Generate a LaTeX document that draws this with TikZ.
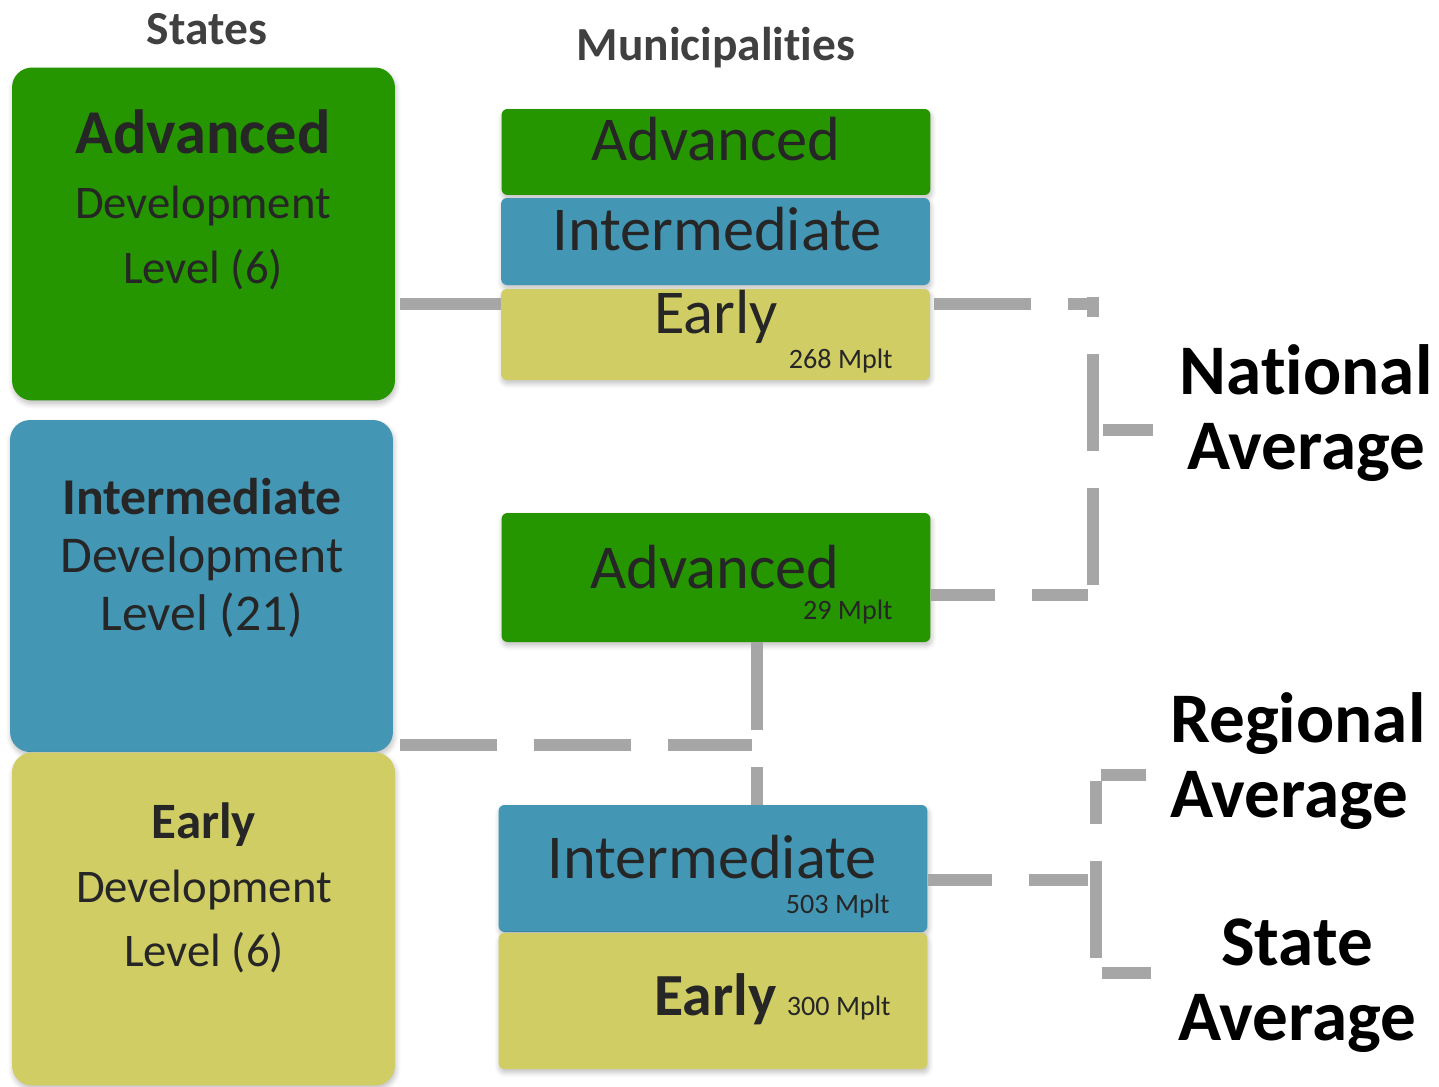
\documentclass[tikz,border=0pt]{standalone}
\usepackage{fontspec}
\setmainfont{Carlito}[RawFeature={-liga;-clig}]
\usepackage{tikz}
\usetikzlibrary{positioning, calc, shadows.blur}
\definecolor{AdvGreen}{HTML}{259500}
\definecolor{IntBlue}{HTML}{4397B5}
\definecolor{EarlyOlive}{HTML}{CFCD63}
\definecolor{LinkGray}{HTML}{A6A6A6}
\definecolor{BoxText}{HTML}{262626}
\definecolor{HeadText}{HTML}{404040}

\begin{document}
\begin{tikzpicture}[
    x=0.02cm, y=-0.02cm,
    softshadow/.style={blur shadow={shadow xshift=0.02cm, shadow yshift=-0.07cm,
        shadow opacity=25, shadow blur radius=0.1cm, shadow blur steps=6}},
    statebox/.style={
        rectangle, rounded corners=0.4cm, fill=#1, inner sep=0pt,
        minimum width=7.66cm, minimum height=6.66cm, softshadow
    },
    munibox/.style={
        rectangle, rounded corners=0.12cm, fill=#1, inner sep=0pt,
        minimum width=8.58cm, softshadow
    },
    boxtext/.style={text=BoxText, align=center, inner sep=0pt},
    muniword/.style={text=BoxText, anchor=base, inner sep=0pt,
                     font=\fontsize{35.5}{38}\selectfont},
    mplt/.style={text=BoxText, anchor=base east, inner sep=0pt,
                 font=\fontsize{16}{18}\selectfont},
    heading/.style={text=HeadText, anchor=base, inner sep=0pt,
                    font=\fontsize{27}{30}\selectfont\bfseries},
    avglabel/.style={text=black, align=center, inner sep=0pt,
                     font=\fontsize{40.5}{42.5}\selectfont\bfseries},
    link/.style={draw=LinkGray, line width=0.24cm, dash pattern=on 1.94cm off 0.74cm},
    solidlink/.style={draw=LinkGray, line width=0.24cm}
]
\useasboundingbox (0,0) rectangle (1439,1086);

% Headings
\node[heading] (hStates) at (207,44) {States};
\node[heading] (hMuni) at (716,60) {Municipalities};

% State boxes
\node[statebox=AdvGreen] (stAdv) at (203.5,234) {};
\node[statebox=IntBlue, minimum height=6.64cm] (stInt) at (201.5,586) {};
\node[statebox=EarlyOlive] (stEarly) at (203.5,919) {};

\node[boxtext, font=\fontsize{26.6}{37}\selectfont] (stAdvTxt) at (203,200)
    {{\fontsize{35.5}{38}\selectfont\bfseries Advanced}\\
     Development\\ Level (6)};
\node[boxtext, font=\fontsize{29.4}{33}\selectfont] (stIntTxt) at (202,558)
    {\textbf{Intermediate}\\ Development\\ Level (21)};
\node[boxtext, font=\fontsize{26.6}{36.5}\selectfont] (stEarlyTxt) at (204,888)
    {{\fontsize{29}{33}\selectfont\bfseries Early}\\
     Development\\ Level (6)};

% Municipality boxes
\node[munibox=AdvGreen, minimum height=1.72cm] (mAdvTop) at (716,152) {};
\node[munibox=IntBlue, minimum height=1.74cm] (mIntTop) at (715.5,241.5) {};
\node[munibox=EarlyOlive, minimum height=1.82cm] (mEarlyTop) at (715.5,334.5) {};
\node[munibox=AdvGreen, minimum height=2.58cm] (mAdvMid) at (716,577.5) {};
\node[munibox=IntBlue, minimum height=2.54cm] (mIntBot) at (713,868.5) {};
\node[munibox=EarlyOlive, minimum height=2.72cm] (mEarlyBot) at (713,1001) {};

\node[muniword] (mAdvTopTxt) at (716,160) {Advanced};
\node[muniword] (mIntTopTxt) at (717,250) {Intermediate};
\node[muniword] (mEarlyTopTxt) at (716,333) {Early};
\node[mplt] (mEarlyTopN) at (893,368) {268 Mplt};
\node[muniword] (mAdvMidTxt) at (715,588) {Advanced};
\node[mplt] (mAdvMidN) at (893,619) {29 Mplt};
\node[muniword] (mIntBotTxt) at (712,878) {Intermediate};
\node[mplt] (mIntBotN) at (890,913) {503 Mplt};
\node[muniword, anchor=base east, font=\fontsize{34}{38}\selectfont\bfseries]
    (mEarlyBotTxt) at (777,1015) {Early};
\node[mplt] (mEarlyBotN) at (891,1015) {300 Mplt};

% Averages
\node[avglabel] (natAvg) at (1306,413) {National\\Average};
\node[avglabel, align=left, anchor=west] (regAvg) at (1170,761) {Regional\\Average};
\node[avglabel] (staAvg) at (1297,986) {State\\Average};

% Junctions
\coordinate (natTop) at (1093,304);
\coordinate (natBot) at (1093,595);
\coordinate (natTick) at (1153,430);
\coordinate (intJ) at (757,745);
\coordinate (regTop) at (1096,775);
\coordinate (regMid) at (1096,880);
\coordinate (staBot) at (1096,973);
\coordinate (regTick) at (1146,775);
\coordinate (staTick) at (1151,973);

% Connectors
\draw[solidlink, shorten <=0.1cm] (stAdv.east |- natTop) -- (mEarlyTop.west |- natTop);
\draw[link, shorten <=0.08cm] (mEarlyTop.east |- natTop) -- ([xshift=0.12cm]natTop);
\draw[link] ([yshift=0.2cm]natBot) -- ([yshift=0.14cm]natTop);
\draw[link, dash phase=0.66cm] (mAdvMid.east |- natBot) -- ([xshift=-0.1cm]natBot);
\draw[solidlink] ([xshift=0.2cm]natTop |- natTick) -- (natTick);

\draw[link, shorten <=0.14cm] (stInt.east |- intJ) -- ([xshift=-0.1cm]intJ);
\draw[link, dash phase=0.18cm] (mAdvMid.south -| intJ) -- (mIntBot.north -| intJ);

\draw[link] ([yshift=0.3cm]staBot) -- ([yshift=-0.12cm]regTop);
\draw[solidlink] ([xshift=0.1cm]regTop) -- (regTick);
\draw[solidlink] ([xshift=0.12cm]staBot) -- (staTick);
\draw[link, dash phase=0.66cm] (mIntBot.east |- regMid) -- ([xshift=-0.16cm]regMid);

\end{tikzpicture}
\end{document}
